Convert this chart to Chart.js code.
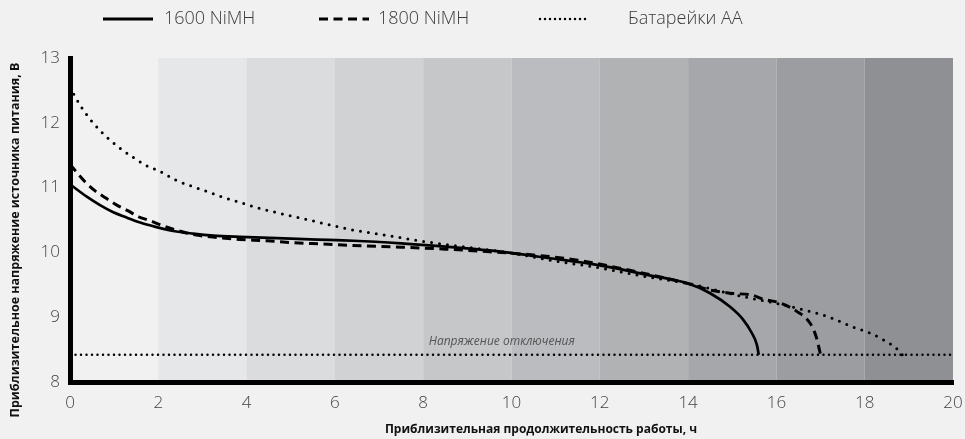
<!DOCTYPE html>
<html>
<head>
<meta charset="utf-8">
<script src="https://cdn.jsdelivr.net/npm/chart.js@4/dist/chart.umd.min.js"></script>
<style>
  html, body { margin: 0; padding: 0; background: #f1f1f1; }
  #wrap { width: 965px; height: 439px; position: relative; }
</style>
</head>
<body>
<div id="wrap"><canvas id="chart" width="965" height="439"></canvas></div>
<script>
// ряды данных (часы, вольты)
const hours1600 = [0, 0.38, 0.68, 0.98, 1.28, 1.59, 1.96, 2.34, 2.79, 3.25, 3.85, 4.68, 5.44, 6.42, 7.5, 8.5, 9.5, 10.87, 12, 13.1, 14, 14.5, 14.95, 15.25, 15.44, 15.56, 15.6]
const volts1600 = [11.05, 10.86, 10.73, 10.62, 10.54, 10.46, 10.39, 10.33, 10.29, 10.26, 10.24, 10.22, 10.2, 10.18, 10.14, 10.09, 10.03, 9.91, 9.8, 9.65, 9.52, 9.37, 9.16, 8.96, 8.76, 8.57, 8.42]

const hours1800 = [0, 0.11, 0.34, 0.57, 0.83, 1.06, 1.32, 1.55, 1.81, 2.1, 2.38, 2.64, 2.94, 3.32, 3.85, 4.45, 5.05, 5.73, 6.34, 7.5, 8.5, 9.5, 10.5, 11.5, 12.5, 13.5, 14, 14.5, 14.95, 15.45, 15.7, 16.08, 16.46, 16.76, 16.9, 17.0]
const volts1800 = [11.36, 11.27, 11.09, 10.95, 10.83, 10.73, 10.64, 10.55, 10.49, 10.41, 10.35, 10.3, 10.26, 10.23, 10.2, 10.18, 10.15, 10.13, 10.11, 10.08, 10.05, 10.01, 9.96, 9.88, 9.75, 9.6, 9.52, 9.42, 9.37, 9.34, 9.28, 9.22, 9.09, 8.91, 8.7, 8.42]

const hoursAA = [0, 0.23, 0.45, 0.68, 1.09, 1.4, 1.7, 2.04, 2.38, 2.76, 3.1, 3.47, 3.81, 4.19, 4.53, 4.9, 5.28, 5.66, 6.04, 6.38, 7.2, 8, 9, 10, 10.87, 12, 13.1, 14, 15.1, 16.15, 16.76, 17.2, 17.73, 18.1, 18.4, 18.75, 18.85]
const voltsAA = [12.55, 12.27, 12.06, 11.88, 11.63, 11.48, 11.35, 11.25, 11.12, 11.02, 10.94, 10.85, 10.78, 10.7, 10.64, 10.58, 10.52, 10.46, 10.4, 10.35, 10.26, 10.17, 10.08, 9.99, 9.88, 9.76, 9.62, 9.52, 9.34, 9.19, 9.09, 9.0, 8.85, 8.76, 8.66, 8.5, 8.42]

const cutoffVoltage = 8.42
const cutoffLabel = "Напряжение отключения"

const seriesLabels = ["1600 NiMH", "1800 NiMH", "Батарейки АА"]
const bandStarts = [0, 2, 4, 6, 8, 10, 12, 14, 16, 18]
const bandColors = ["#f1f1f1", "#e6e7e9", "#dbdcde", "#d1d2d4", "#c6c7c9", "#bbbcc0", "#b1b2b4", "#a6a7aa", "#9c9da0", "#8f9094"]

const xTitle = "Приблизительная продолжительность работы, ч"
const yTitle = "Приблизительное напряжение источника питания, В"

const toPoints = (xs, ys) => xs.map((x, i) => ({ x: x, y: ys[i] }))

// серые полосы фона
const bandsPlugin = {
  id: "bands",
  beforeDraw(chart) {
    const { ctx, chartArea, scales } = chart
    ctx.save()
    ctx.fillStyle = "#f1f1f1"
    ctx.fillRect(0, 0, chart.width, chart.height)
    bandStarts.forEach((start, i) => {
      const x0 = scales.x.getPixelForValue(start)
      const x1 = scales.x.getPixelForValue(start + 2)
      ctx.fillStyle = bandColors[i]
      ctx.fillRect(x0, chartArea.top, x1 - x0, chartArea.bottom - chartArea.top)
    })
    ctx.restore()
  }
}

// подпись линии отключения и заголовки осей
const labelsPlugin = {
  id: "extraLabels",
  afterDatasetsDraw(chart) {
    const { ctx, scales } = chart
    ctx.save()
    ctx.font = "italic 12px 'Open Sans', sans-serif"
    ctx.fillStyle = "#555"
    ctx.textAlign = "center"
    ctx.textBaseline = "middle"
    ctx.fillText(cutoffLabel, scales.x.getPixelForValue(9.78), scales.y.getPixelForValue(cutoffVoltage) - 13)

    ctx.font = "bold 12px 'Open Sans', sans-serif"
    ctx.fillStyle = "#111"
    ctx.fillText(xTitle, 541, 430)

    ctx.translate(15, 240)
    ctx.rotate(-Math.PI / 2)
    ctx.font = "bold 12.5px 'Open Sans', sans-serif"
    ctx.fillText(yTitle, 0, 0)
    ctx.restore()
  }
}

// легенда с образцами линий
const legendPlugin = {
  id: "lineLegend",
  afterDraw(chart) {
    const { ctx } = chart
    const sampleX = [103, 319, 540]
    const textX = [164, 378, 628]
    const sampleDash = [[], [9, 5.5], [0, 5]]
    ctx.save()
    ctx.font = "300 18px 'Open Sans', sans-serif"
    ctx.textBaseline = "middle"
    ctx.fillStyle = "#3a3a3a"
    seriesLabels.forEach((label, i) => {
      const ds = chart.data.datasets[i + 1]
      const y = 19
      ctx.beginPath()
      ctx.strokeStyle = "#000"
      ctx.lineWidth = i === 2 ? 2.5 : 3
      ctx.lineCap = ds.borderCapStyle || "butt"
      ctx.setLineDash(sampleDash[i])
      ctx.moveTo(sampleX[i], y)
      ctx.lineTo(sampleX[i] + 50, y)
      ctx.stroke()
      ctx.setLineDash([])
      ctx.fillText(label, textX[i], y)
    })
    ctx.restore()
  }
}

new Chart(document.getElementById("chart"), {
  type: "line",
  data: {
    datasets: [
      {
        label: cutoffLabel,
        data: [{ x: 0, y: cutoffVoltage }, { x: 20, y: cutoffVoltage }],
        borderColor: "#000",
        borderWidth: 2.5,
        borderDash: [0, 5.5],
        borderCapStyle: "round",
        pointRadius: 0
      },
      {
        label: seriesLabels[0],
        data: toPoints(hours1600, volts1600),
        borderColor: "#000",
        borderWidth: 2.7,
        cubicInterpolationMode: "monotone",
        pointRadius: 0
      },
      {
        label: seriesLabels[1],
        data: toPoints(hours1800, volts1800),
        borderColor: "#000",
        borderWidth: 3,
        borderDash: [9, 5.5],
        cubicInterpolationMode: "monotone",
        pointRadius: 0
      },
      {
        label: seriesLabels[2],
        data: toPoints(hoursAA, voltsAA),
        borderColor: "#000",
        borderWidth: 3,
        borderDash: [0, 8],
        borderCapStyle: "round",
        cubicInterpolationMode: "monotone",
        pointRadius: 0
      }
    ]
  },
  options: {
    responsive: false,
    animation: false,
    events: [],
    layout: { padding: { top: 58, right: 12, left: 0, bottom: 0 } },
    plugins: {
      legend: { display: false },
      tooltip: { enabled: false }
    },
    scales: {
      x: {
        type: "linear",
        min: 0,
        max: 20,
        afterFit: s => {
          s.height = 57
          s.paddingLeft = 0
          s.paddingRight = 0
        },
        grid: { display: false, drawTicks: false },
        border: { display: true, color: "#000", width: 5 },
        ticks: {
          stepSize: 2,
          padding: 11,
          color: "#444",
          font: { family: "'Open Sans', sans-serif", size: 17, weight: "300" }
        }
      },
      y: {
        min: 8,
        max: 13,
        afterFit: s => {
          s.width = 70
          s.paddingTop = 0
          s.paddingBottom = 0
        },
        grid: { display: false, drawTicks: false },
        border: { display: true, color: "#000", width: 5 },
        ticks: {
          stepSize: 1,
          padding: 10,
          color: "#444",
          font: { family: "'Open Sans', sans-serif", size: 17, weight: "300" }
        }
      }
    }
  },
  plugins: [bandsPlugin, labelsPlugin, legendPlugin]
})
</script>
</body>
</html>
